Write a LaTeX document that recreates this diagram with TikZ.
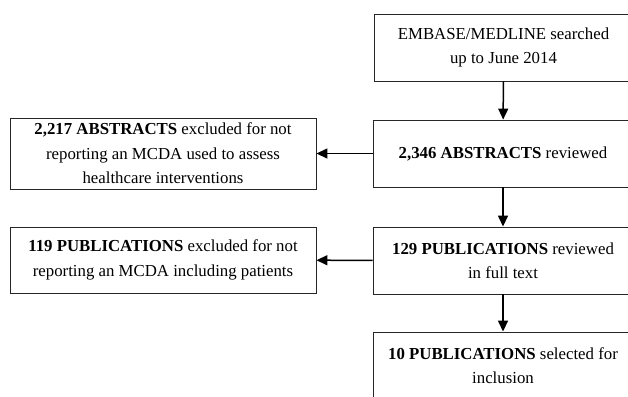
\documentclass[tikz,border=0pt]{standalone}
\usepackage{fontspec}
\setmainfont{Liberation Serif}
\usetikzlibrary{arrows.meta}
\begin{document}
\begin{tikzpicture}[x=1pt,y=-1pt,
  box/.style={draw=black!85,line width=0.9pt,rectangle,align=center,inner sep=0pt,
    font=\fontsize{16.8}{24.5}\selectfont},
  flow/.style={draw=black,line width=1.5pt,-{Triangle[length=11pt,width=10pt]}}]
\useasboundingbox (0,0) rectangle (628,396);
\clip (0,0) rectangle (628,396);
\node[box,minimum width=259pt,minimum height=67pt] (b1) at (503.5,47.5) {EMBASE/MEDLINE searched\\up to June 2014};
\node[box,minimum width=260pt,minimum height=67pt] (b2) at (503,153.5) {\textbf{2,346 ABSTRACTS} reviewed};
\node[box,minimum width=306pt,minimum height=71pt] (l1) at (163,153.5) {\textbf{2,217 ABSTRACTS} excluded for not\\reporting an MCDA used to assess\\healthcare interventions};
\node[box,minimum width=260pt,minimum height=67pt] (b3) at (503,260.5) {\textbf{129 PUBLICATIONS} reviewed\\in full text};
\node[box,minimum width=306pt,minimum height=66pt] (l2) at (163,260) {\textbf{119 PUBLICATIONS} excluded for not\\reporting an MCDA including patients};
\node[box,minimum width=260pt,minimum height=67pt] (b4) at (503,365.5) {\textbf{10 PUBLICATIONS} selected for\\inclusion};
\draw[flow] (b1) -- (b2);
\draw[flow] (b2) -- (b3);
\draw[flow] (b3) -- (b4);
\draw[flow] (b2) -- (l1);
\draw[flow] (b3) -- (l2);
\end{tikzpicture}
\end{document}
